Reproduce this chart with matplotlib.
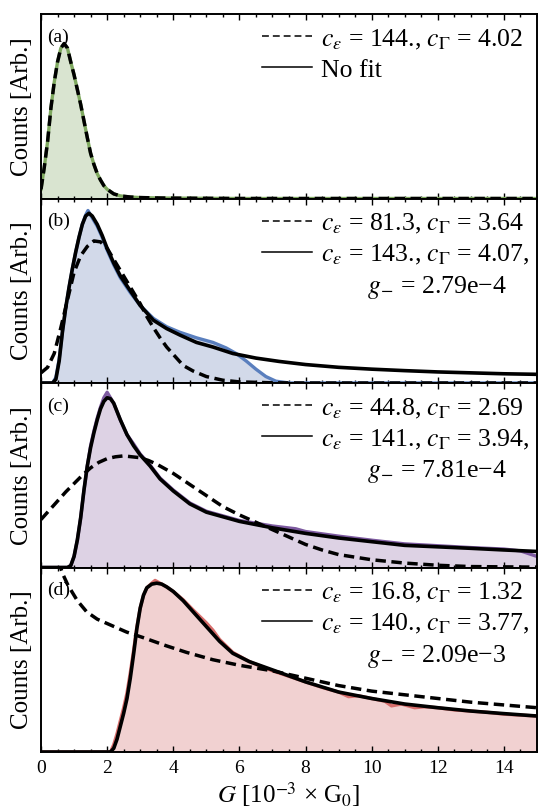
import numpy as np
import matplotlib
matplotlib.use('Agg')
import matplotlib.pyplot as plt
from matplotlib.lines import Line2D
from matplotlib.ticker import MultipleLocator

plt.rcParams['font.family'] = ['Liberation Serif', 'DejaVu Serif']
plt.rcParams['mathtext.fontset'] = 'stix'

# ---------------- data (heights as fraction of panel) ----
# panel (a)
a_G = [0, 0.1, 0.2, 0.3, 0.4, 0.5, 0.6, 0.7, 0.8, 0.9, 1.0, 1.1, 1.2, 1.3, 1.4,
       1.5, 1.6, 1.7, 1.8, 1.9, 2.0, 2.2, 2.4, 2.7, 3.0, 3.5, 4.0, 5.0, 6.0, 15]
a_data = [0.05, 0.17, 0.31, 0.49, 0.63, 0.74, 0.815, 0.84, 0.815, 0.74, 0.67,
          0.59, 0.51, 0.42, 0.33, 0.245, 0.185, 0.135, 0.10, 0.07, 0.05, 0.025,
          0.014, 0.008, 0.005, 0.003, 0.002, 0.001, 0.0, 0.0]
a_fit_dash = [0.05, 0.17, 0.31, 0.49, 0.63, 0.74, 0.815, 0.84, 0.815, 0.74, 0.67,
              0.59, 0.51, 0.42, 0.33, 0.245, 0.185, 0.135, 0.10, 0.07, 0.05, 0.025,
              0.014, 0.008, 0.005, 0.003, 0.002, 0.001, 0.0, 0.0]

# panel (b)
b_G_data = [0, 0.35, 0.45, 0.55, 0.65, 0.75, 0.85, 0.95, 1.05, 1.15, 1.25, 1.35,
            1.42, 1.5, 1.6, 1.7, 1.85, 2.0, 2.2, 2.4, 2.7, 3.0, 3.4, 3.8, 4.2,
            4.7, 5.2, 5.6, 5.9, 6.2, 6.5, 6.8, 7.1, 7.5, 15]
b_data = [0, 0, 0.03, 0.13, 0.28, 0.41, 0.52, 0.62, 0.71, 0.79, 0.86, 0.91,
          0.935, 0.91, 0.88, 0.85, 0.79, 0.72, 0.64, 0.57, 0.49, 0.42, 0.35,
          0.305, 0.275, 0.245, 0.22, 0.19, 0.16, 0.12, 0.075, 0.035, 0.01, 0.0, 0.0]
b_G_dash = [0, 0.2, 0.4, 0.6, 0.8, 1.0, 1.2, 1.4, 1.6, 1.8, 2.0, 2.2, 2.4, 2.6,
            2.8, 3.0, 3.2, 3.4, 3.6, 3.8, 4.0, 4.3, 4.6, 5.0, 5.5, 6.0, 7.0, 8.0, 15]
b_fit_dash = [0.055, 0.085, 0.16, 0.30, 0.45, 0.60, 0.69, 0.74, 0.77, 0.765,
              0.73, 0.67, 0.61, 0.55, 0.49, 0.43, 0.36, 0.30, 0.245, 0.195,
              0.155, 0.095, 0.065, 0.035, 0.015, 0.006, 0.001, 0.0, 0.0]
b_G_solid = [0, 0.35, 0.45, 0.55, 0.65, 0.75, 0.85, 0.95, 1.05, 1.15, 1.25, 1.35,
             1.45, 1.55, 1.7, 1.85, 2.0, 2.2, 2.4, 2.7, 3.0, 3.4, 3.8, 4.2, 4.7,
             5.2, 5.8, 6.5, 7.2, 8, 9, 10, 11, 12, 13, 14, 15]
b_fit_solid = [0, 0, 0.02, 0.12, 0.28, 0.41, 0.52, 0.62, 0.71, 0.79, 0.86, 0.905,
               0.92, 0.905, 0.86, 0.80, 0.73, 0.65, 0.58, 0.50, 0.42, 0.34, 0.295,
               0.26, 0.22, 0.195, 0.16, 0.135, 0.117, 0.10, 0.085, 0.075, 0.067,
               0.06, 0.055, 0.05, 0.047]

# panel (c)
c_G_data = [0, 0.8, 0.9, 1.0, 1.1, 1.2, 1.3, 1.4, 1.5, 1.6, 1.7, 1.8, 1.9, 2.0,
            2.1, 2.2, 2.4, 2.6, 2.8, 3.0, 3.3, 3.6, 4.0, 4.5, 5.0, 5.5, 6.0, 7.0,
            7.7, 8.0, 9.0, 10, 11, 12, 13, 14, 14.5, 15]
c_data = [0, 0, 0.01, 0.06, 0.15, 0.27, 0.42, 0.55, 0.66, 0.74, 0.81, 0.87, 0.92,
          0.95, 0.92, 0.89, 0.80, 0.72, 0.67, 0.615, 0.555, 0.485, 0.42, 0.35,
          0.305, 0.28, 0.255, 0.225, 0.21, 0.195, 0.17, 0.148, 0.128, 0.118,
          0.108, 0.10, 0.09, 0.06]
c_G_dash = [0, 0.25, 0.5, 0.75, 1.0, 1.25, 1.5, 1.75, 2.0, 2.25, 2.5, 2.75, 3.0,
            3.25, 3.5, 3.75, 4.0, 4.5, 5.0, 5.5, 6.0, 6.5, 7.0, 7.5, 8.0, 8.5,
            9, 10, 11, 12, 13, 15]
c_fit_dash = [0.26, 0.31, 0.36, 0.41, 0.455, 0.50, 0.54, 0.57, 0.59, 0.60, 0.605,
              0.60, 0.595, 0.58, 0.56, 0.535, 0.51, 0.45, 0.39, 0.33, 0.285,
              0.245, 0.205, 0.165, 0.125, 0.095, 0.07, 0.042, 0.024, 0.012,
              0.005, 0.002]
c_G_solid = [0, 0.8, 0.9, 1.0, 1.1, 1.2, 1.3, 1.4, 1.5, 1.6, 1.7, 1.8, 1.9, 2.0,
             2.1, 2.2, 2.4, 2.6, 2.8, 3.0, 3.3, 3.6, 4.0, 4.5, 5.0, 5.5, 6.0, 7.0,
             8.0, 9.0, 10, 11, 12, 13, 14, 15]
c_fit_solid = [0, 0, 0.01, 0.06, 0.15, 0.27, 0.42, 0.55, 0.65, 0.73, 0.80, 0.86,
               0.90, 0.92, 0.915, 0.89, 0.80, 0.72, 0.66, 0.61, 0.55, 0.48, 0.415,
               0.345, 0.30, 0.275, 0.25, 0.215, 0.185, 0.16, 0.14, 0.12, 0.112,
               0.104, 0.095, 0.087]

# panel (d)
d_G_data = [0, 2.1, 2.2, 2.3, 2.4, 2.5, 2.6, 2.7, 2.8, 2.9, 3.0, 3.1, 3.2, 3.35,
            3.45, 3.6, 3.8, 4.0, 4.3, 4.6, 5.0, 5.2, 5.4, 5.8, 6.3, 7.0, 7.5, 8,
            8.5, 9, 9.3, 9.6, 10, 10.4, 10.6, 10.9, 11.3, 11.6, 12, 12.5, 13,
            13.5, 14, 14.5, 15]
d_data = [0, 0, 0.04, 0.10, 0.17, 0.24, 0.32, 0.43, 0.55, 0.68, 0.78, 0.85, 0.89,
          0.915, 0.93, 0.915, 0.895, 0.87, 0.825, 0.77, 0.70, 0.66, 0.61, 0.54,
          0.49, 0.44, 0.41, 0.38, 0.35, 0.325, 0.30, 0.305, 0.29, 0.275, 0.25,
          0.26, 0.24, 0.245, 0.24, 0.228, 0.222, 0.215, 0.205, 0.20, 0.195]
d_G_dash = [0.4, 0.55, 0.67, 0.8, 0.93, 1.1, 1.38, 1.7, 2.08, 2.59, 3.09, 3.8,
            4.4, 5.2, 6.0, 7.0, 8, 9, 10, 11, 12, 13, 14, 15]
d_fit_dash = [1.12, 1.02, 0.96, 0.91, 0.87, 0.82, 0.76, 0.72, 0.69, 0.65, 0.62,
              0.575, 0.54, 0.50, 0.47, 0.44, 0.40, 0.36, 0.33, 0.31, 0.29, 0.27,
              0.255, 0.24]
d_G_solid = [0, 2.1, 2.2, 2.3, 2.4, 2.5, 2.6, 2.7, 2.8, 2.9, 3.0, 3.1, 3.2, 3.35,
             3.5, 3.65, 3.8, 4.0, 4.3, 4.6, 5.0, 5.4, 5.8, 6.3, 7.0, 8, 9, 10,
             11, 12, 13, 14, 15]
d_fit_solid = [0, 0, 0.02, 0.07, 0.14, 0.21, 0.29, 0.40, 0.53, 0.67, 0.78, 0.85,
               0.89, 0.91, 0.915, 0.91, 0.895, 0.87, 0.82, 0.76, 0.68, 0.60,
               0.535, 0.49, 0.445, 0.38, 0.325, 0.29, 0.26, 0.24, 0.222, 0.208,
               0.195]

panel_labels = ['(a)', '(b)', '(c)', '(d)']
legend_dash = [r'$c_\varepsilon$ = 144., $c_\Gamma$ = 4.02',
               r'$c_\varepsilon$ = 81.3, $c_\Gamma$ = 3.64',
               r'$c_\varepsilon$ = 44.8, $c_\Gamma$ = 2.69',
               r'$c_\varepsilon$ = 16.8, $c_\Gamma$ = 1.32']
legend_solid = ['No fit',
                r'$c_\varepsilon$ = 143., $c_\Gamma$ = 4.07,',
                r'$c_\varepsilon$ = 141., $c_\Gamma$ = 3.94,',
                r'$c_\varepsilon$ = 140., $c_\Gamma$ = 3.77,']
legend_gminus = [None,
                 r'$\hspace{2.5}g_{-}$ = 2.79e−4',
                 r'$\hspace{2.5}g_{-}$ = 7.81e−4',
                 r'$\hspace{2.5}g_{-}$ = 2.09e−3']
x_ticks = [0, 2, 4, 6, 8, 10, 12, 14]

fill_colors = ['#d9e4d0', '#d2d9e9', '#ddd2e4', '#f1d1d1']
edge_colors = ['#7ea85f', '#5a7fbe', '#7d5aa0', '#d86e6c']

panels = [
    (a_G, a_data, a_G, a_fit_dash, None, None),
    (b_G_data, b_data, b_G_dash, b_fit_dash, b_G_solid, b_fit_solid),
    (c_G_data, c_data, c_G_dash, c_fit_dash, c_G_solid, c_fit_solid),
    (d_G_data, d_data, d_G_dash, d_fit_dash, d_G_solid, d_fit_solid),
]

fig = plt.figure(figsize=(5.38, 8.11), dpi=100)
left, right = 41 / 538, 537 / 538
top, bottom = 1 - 14 / 811, 1 - 752 / 811
ph = (top - bottom) / 4

DASH = (3.0, 1.6)
for i, (gd, hd, gdash, hdash, gsol, hsol) in enumerate(panels):
    ax = fig.add_axes([left, top - (i + 1) * ph, right - left, ph])
    ax.fill_between(gd, 0, hd, color=fill_colors[i], lw=0, zorder=1)
    ax.plot(gd, hd, color=edge_colors[i], lw=2.4, zorder=2)
    if gsol is not None:
        ax.plot(gsol, hsol, color='black', lw=2.6, zorder=4,
                solid_joinstyle='round', solid_capstyle='round')
    ax.plot(gdash, hdash, color='black', lw=2.5, dashes=DASH, zorder=5)

    ax.set_xlim(0, 15)
    ax.set_ylim(0, 1)
    ax.set_yticks([])
    ax.set_xticks(x_ticks)
    ax.xaxis.set_minor_locator(MultipleLocator(0.5))
    ax.tick_params(axis='x', which='both', direction='in', top=True,
                   bottom=True, width=1.0, color='black')
    ax.tick_params(axis='x', which='major', length=4.5, labelsize=14, pad=6)
    ax.tick_params(axis='x', which='minor', length=2.2)
    if i < 3:
        ax.tick_params(axis='x', labelbottom=False)
    for sp in ax.spines.values():
        sp.set_linewidth(1.4)
        sp.set_zorder(10)

    ax.set_ylabel('Counts [Arb.]', fontsize=18, labelpad=6)
    ax.text(0.012, 0.875, panel_labels[i], transform=ax.transAxes,
            fontsize=14, va='center', ha='left', zorder=6)

    handles = [Line2D([], [], color='black', lw=1.1, dashes=(4.5, 2.6)),
               Line2D([], [], color='black', lw=1.1)]
    labels = [legend_dash[i], legend_solid[i]]
    if legend_gminus[i] is not None:
        handles.append(Line2D([], [], color='none', lw=0))
        labels.append(legend_gminus[i])
    ax.legend(handles, labels, loc='upper left',
              bbox_to_anchor=(0.4456, 0.935), frameon=False, fontsize=18.5,
              handlelength=1.95, handletextpad=0.36, borderpad=0,
              borderaxespad=0, labelspacing=0.2, handleheight=1.0)

    if i == 3:
        ax.set_xlabel(r'$G$ [10$^{-3}$ × G$_0$]', fontsize=18, labelpad=2)

fig.savefig('out.png', dpi=100)
